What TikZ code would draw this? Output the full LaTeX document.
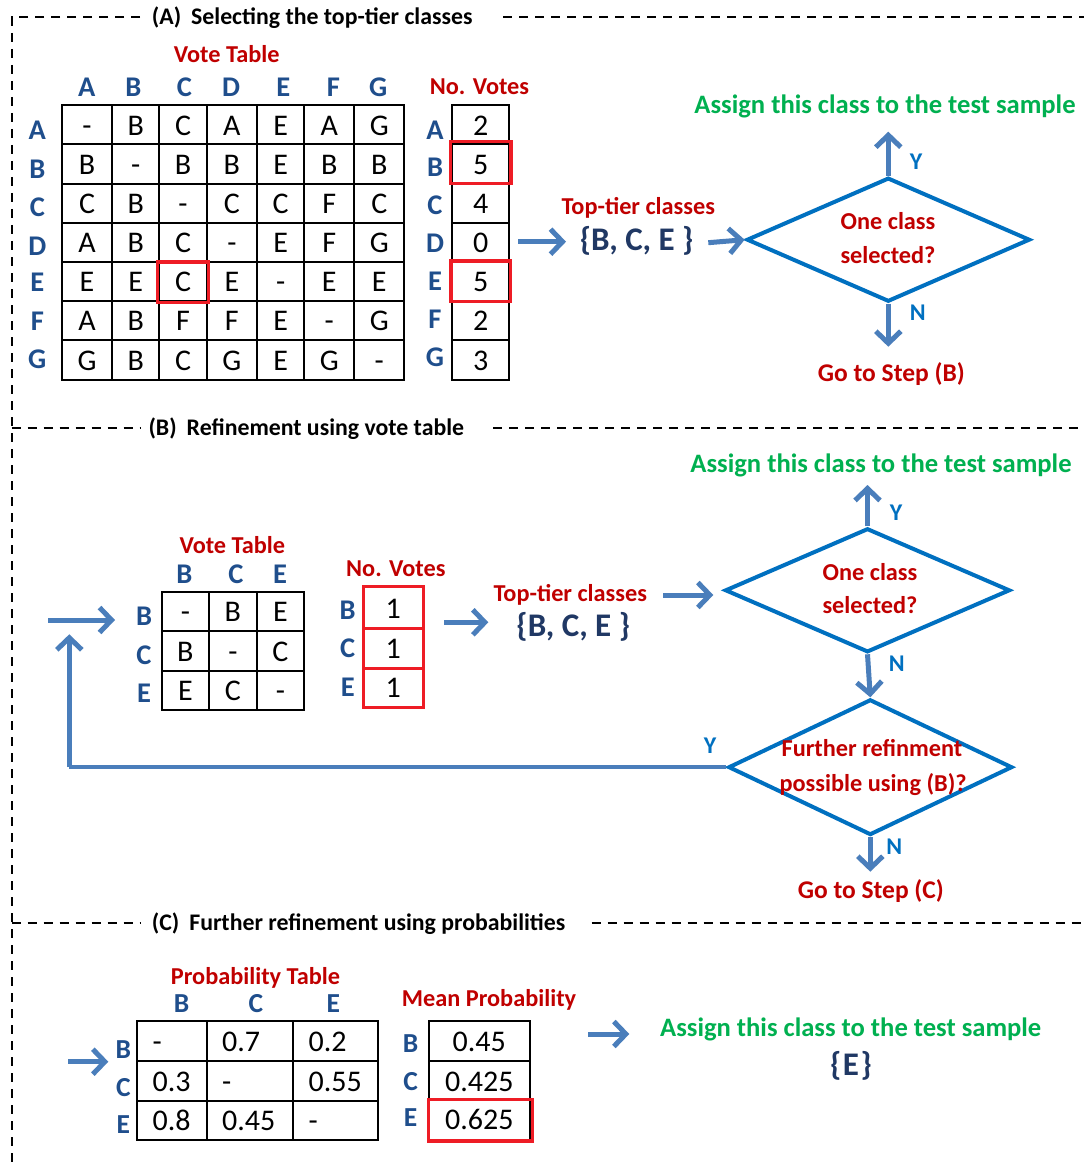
\documentclass[tikz,border=0pt]{standalone}
\usepackage{fontspec}
\setmainfont{Carlito}
\usetikzlibrary{arrows.meta,shapes.geometric,calc}
\definecolor{hdrblue}{HTML}{1F4E8C}
\definecolor{setblue}{HTML}{203864}
\definecolor{dred}{HTML}{C00000}
\definecolor{grn}{HTML}{00B050}
\definecolor{arrblue}{HTML}{4A7EBB}
\definecolor{diablue}{HTML}{0070C0}
\definecolor{boxred}{HTML}{EE1C25}
\tikzset{
 txt/.style={inner sep=0pt, anchor=base},
 sectitle/.style={txt, anchor=base west, font=\fontsize{23.8}{28}\selectfont\bfseries},
 redlab/.style={txt, text=dred, font=\fontsize{24.3}{28}\selectfont\bfseries},
 grnlab/.style={txt, text=grn, font=\fontsize{26.6}{30}\selectfont\bfseries},
 hdr/.style={txt, text=hdrblue, font=\fontsize{28.5}{32}\selectfont\bfseries},
 hdrs/.style={txt, text=hdrblue, font=\fontsize{27.5}{30}\selectfont\bfseries},
 cell/.style={txt, font=\fontsize{30}{33}\selectfont},
 pcell/.style={txt, font=\fontsize{30}{33}\selectfont},
 setlab/.style={txt, text=setblue, font=\fontsize{33}{38}\selectfont\bfseries},
 yn/.style={txt, text=diablue, font=\fontsize{24}{28}\selectfont\bfseries},
 secline/.style={line width=2pt, dash pattern=on 9pt off 7pt},
 grid/.style={line width=2pt},
 hl/.style={draw=boxred, line width=3.5pt},
 flow/.style={draw=arrblue, line width=5pt, -{Straight Barb[length=12pt,width=25pt]}},
 loopline/.style={draw=arrblue, line width=4pt},
 decide/.style={shape=diamond, draw=diablue, line width=4pt, inner sep=0pt, aspect=2.3},
}
\begin{document}
\begin{tikzpicture}[x=1pt,y=-1pt]
\useasboundingbox (0,0) rectangle (1084,1166);
\fill[white] (0,0) rectangle (1084,1166);

% ---------- section frames ----------
\draw[secline] (140,17.3) -- (11.7,17.3) -- (11.7,1166);
\draw[secline] (503,17.3) -- (1084,17.3);
\draw[secline] (11.7,428.3) -- (140,428.3);
\draw[secline] (493,428.3) -- (1084,428.3);
\draw[secline] (11.7,922.7) -- (141,922.7);
\draw[secline] (591.7,922.7) -- (1084,922.7);
\node[sectitle] (titA) at (151.7,25) {(A)\hspace{10pt}Selecting the top-tier classes};
\node[sectitle] (titB) at (148.3,435) {(B)\hspace{10pt}Refinement using vote table};
\node[sectitle] (titC) at (151.7,930) {(C)\hspace{10pt}Further refinement using probabilities};

% ================= SECTION A =================
\node[redlab] (vtA) at (226.7,62.7) {Vote Table};
\node[redlab] (nvA) at (479.5,95) {No. Votes};
\foreach \L/\x [count=\k] in {A/86.7,B/133.3,C/184.3,D/231,E/283.3,F/333.3,G/378.3}
  \node[hdr] (chA\k) at (\x,96.7) {\L};
\foreach \L/\y [count=\k] in {A/140,B/178.3,C/216.7,D/255,E/291.7,F/330,G/368.3}
  \node[hdr] (rhA\k) at (37.3,\y) {\L};
\foreach \L/\y [count=\k] in {A/139.3,B/176.7,C/215,D/252.7,E/290.7,F/328.3,G/366.7}
  \node[hdr] (rvA\k) at (435,\y) {\L};
\draw[grid] (61.7,105.3) rectangle (404.3,380.3);
\foreach \x in {112.3,159.3,206.7,257,304.3,354.3} \draw[grid] (\x,105.3) -- (\x,380.3);
\foreach \y in {144.5,183.6,222.8,262,301.1,340.3} \draw[grid] (61.7,\y) -- (404.3,\y);
\draw[grid] (452.3,105.3) rectangle (509.3,380.3);
\foreach \y in {144.5,183.6,222.8,262,301.1,340.3} \draw[grid] (452.3,\y) -- (509.3,\y);
\def\vAcx{{87,135.8,183,231.85,280.65,329.3,379.3}}
\foreach \r [count=\i from 0] in {{-,B,C,A,E,A,G},{B,-,B,B,E,B,B},{C,B,-,C,C,F,C},{A,B,C,-,E,F,G},{E,E,C,E,-,E,E},{A,B,F,F,E,-,G},{G,B,C,G,E,G,-}}{
  \foreach \c [count=\j from 0] in \r {
    \pgfmathsetmacro\cx{\vAcx[\j]}
    \pgfmathsetmacro\cy{105.3+39.17*\i+29.8}
    \node[cell] (cA-\i-\j) at (\cx,\cy) {\c};
  }
}
\foreach \v [count=\i from 0] in {2,5,4,0,5,2,3}{
  \pgfmathsetmacro\cy{105.3+39.17*\i+29.8}
  \node[cell] (nA\i) at (480.8,\cy) {\v};
}
\draw[hl] (450.7,141.7) rectangle (511,183.3);
\draw[hl] (451.2,260.9) rectangle (510.5,301.7);
\draw[hl] (157.7,261.9) rectangle (208.5,302.5);

% flow A
\coordinate (aA1s) at (518,241.7);
\coordinate (aA1e) at (566,241.7);
\node[redlab] (ttA) at (638.3,215) {Top-tier classes};
\node[setlab] (setA) at (636.7,250.7) {\{B, C, E \}};
\coordinate (aA2s) at (708.3,242.7);
\node[decide, minimum width=283.3pt, minimum height=124pt] (dA) at (888.3,239.7) {};
\draw[flow] (aA1s) -- (aA1e);
\draw[flow] (aA2s) -- (dA.west);
\node[redlab] (dAt1) at (888,229.3) {One class};
\node[redlab] (dAt2) at (888,263.3) {selected?};
\node[grnlab] (asA) at (885,113.3) {Assign this class to the test sample};
\coordinate (upA) at (888.3,131.7);
\draw[flow] (dA.north) -- (upA);
\node[yn] (yA) at (916,169.3) {Y};
\coordinate (dnA) at (888.3,346.7);
\draw[flow] (dA.south) -- (dnA);
\node[yn] (nA) at (917.7,320.7) {N};
\node[redlab, font=\fontsize{25.5}{30}\selectfont\bfseries] (goB) at (891.3,381.7) {Go to Step (B)};

% ================= SECTION B =================
\node[redlab] (vtB) at (232.3,553.3) {Vote Table};
\node[redlab] (nvB) at (395.8,576.7) {No. Votes};
\foreach \L/\x [count=\k] in {B/184.3,C/236,E/280}
  \node[hdr] (chB\k) at (\x,583.3) {\L};
\foreach \L/\y [count=\k] in {B/625.7,C/664.3,E/702.7}
  \node[hdr] (rhB\k) at (144,\y) {\L};
\foreach \L/\y [count=\k] in {B/619.3,C/657.7,E/696.7}
  \node[hdr] (rvB\k) at (347.7,\y) {\L};
\draw[grid] (161.7,592) rectangle (304,710);
\foreach \x in {209,256.7} \draw[grid] (\x,592) -- (\x,710);
\foreach \y in {631,670.7} \draw[grid] (161.7,\y) -- (304,\y);
\def\vBcx{{185.35,232.85,280.35}}
\foreach \r [count=\i from 0] in {{-,B,E},{B,-,C},{E,C,-}}{
  \foreach \c [count=\j from 0] in \r {
    \pgfmathsetmacro\cx{\vBcx[\j]}
    \pgfmathsetmacro\cy{592+39.33*\i+29.8}
    \node[cell] (cB-\i-\j) at (\cx,\cy) {\c};
  }
}
\draw[hl] (363.3,586.7) rectangle (423.3,628.3);
\draw[hl] (363.3,628.3) rectangle (423.3,668.3);
\draw[hl] (363.3,668.3) rectangle (423.3,707.3);
\node[cell] (nB1) at (393.3,618.3) {1};
\node[cell] (nB2) at (393.3,658.3) {1};
\node[cell] (nB3) at (393.3,697.3) {1};

\coordinate (inBs) at (48.3,620);
\coordinate (inBe) at (115,620);
\draw[flow] (inBs) -- (inBe);
\coordinate (aB1s) at (444.3,622.3);
\coordinate (aB1e) at (488.3,622.3);
\draw[flow] (aB1s) -- (aB1e);
\node[redlab] (ttB) at (570.3,601.7) {Top-tier classes};
\node[setlab] (setB) at (573.3,636.7) {\{B, C, E \}};
\node[decide, minimum width=285pt, minimum height=124pt] (dB1) at (867.5,590.3) {};
\coordinate (aB2s) at (663.3,595);
\coordinate (aB2e) at (713.3,595);
\draw[flow] (aB2s) -- (aB2e);
\node[redlab] (dB1t1) at (870,580) {One class};
\node[redlab] (dB1t2) at (870,613.3) {selected?};
\node[grnlab] (asB) at (881,472.3) {Assign this class to the test sample};
\coordinate (upB) at (867.5,485);
\draw[flow] (dB1.north) -- (upB);
\node[yn] (yB) at (896,520) {Y};
\node[decide, minimum width=284pt, minimum height=135.7pt] (dB2) at (870.3,767.2) {};
\draw[flow] (dB1.south) -- (dB2.north);
\node[yn] (nB) at (896.7,671.7) {N};
\node[redlab] (dB2t1) at (872,756.7) {Further refinment};
\node[redlab] (dB2t2) at (873,791.7) {possible using (B)?};
\coordinate (loopC) at (69.3,767.2);
\coordinate (loopT) at (69.3,634.3);
\draw[loopline] (dB2.west) -- (loopC);
\draw[flow] (loopC) -- (loopT);
\node[yn] (yB2) at (710,753.3) {Y};
\coordinate (dnB) at (870.3,871.7);
\draw[flow] (dB2.south) -- (dnB);
\node[yn] (nB2) at (894.3,854) {N};
\node[redlab, font=\fontsize{25.5}{30}\selectfont\bfseries] (goC) at (870.8,898.3) {Go to Step (C)};

% ================= SECTION C =================
\node[redlab] (ptC) at (255.5,984) {Probability Table};
\foreach \L/\x [count=\k] in {B/181.7,C/256,E/333.3}
  \node[hdrs] (chC\k) at (\x,1012.7) {\L};
\foreach \L/\y [count=\k] in {B/1058.3,C/1096,E/1133.3}
  \node[hdrs] (rhC\k) at (123.3,\y) {\L};
\draw[grid] (136.7,1021) rectangle (378.3,1140);
\foreach \x in {206.7,293.3} \draw[grid] (\x,1021) -- (\x,1140);
\foreach \y in {1060.7,1100.7} \draw[grid] (136.7,\y) -- (378.3,\y);
\def\vCcx{{152.5,222,308.5}}
\foreach \r/\cy [count=\i from 0] in {{-,0.7,0.2}/1051,{0.3,-,0.55}/1091,{0.8,0.45,-}/1130}{
  \foreach \c [count=\j from 0] in \r {
    \pgfmathsetmacro\cx{\vCcx[\j]}
    \node[pcell, anchor=base west] (cC-\i-\j) at (\cx,\cy) {\c};
  }
}
\coordinate (inCs) at (68.3,1061.7);
\coordinate (inCe) at (108.3,1061.7);
\draw[flow] (inCs) -- (inCe);
\node[redlab, anchor=base west] (mpC) at (401.7,1006.7) {Mean Probability};
\draw[grid] (429.3,1021) rectangle (530,1140);
\foreach \y in {1061,1100} \draw[grid] (429.3,\y) -- (530,\y);
\node[pcell] (mC1) at (479.3,1051.7) {0.45};
\node[pcell] (mC2) at (479.3,1091) {0.425};
\node[pcell] (mC3) at (479.3,1129.3) {0.625};
\foreach \L/\y [count=\k] in {B/1052.7,C/1090,E/1126.7}
  \node[hdrs] (rvC\k) at (410.7,\y) {\L};
\draw[hl] (428.3,1099.3) rectangle (532.7,1141);
\coordinate (aCs) at (588.3,1034);
\coordinate (aCe) at (629.3,1034);
\draw[flow] (aCs) -- (aCe);
\node[grnlab] (asC) at (850.7,1036) {Assign this class to the test sample};
\node[setlab] (setC) at (851,1075) {\{\kern1.5pt E\kern1.5pt\}};
\end{tikzpicture}
\end{document}
